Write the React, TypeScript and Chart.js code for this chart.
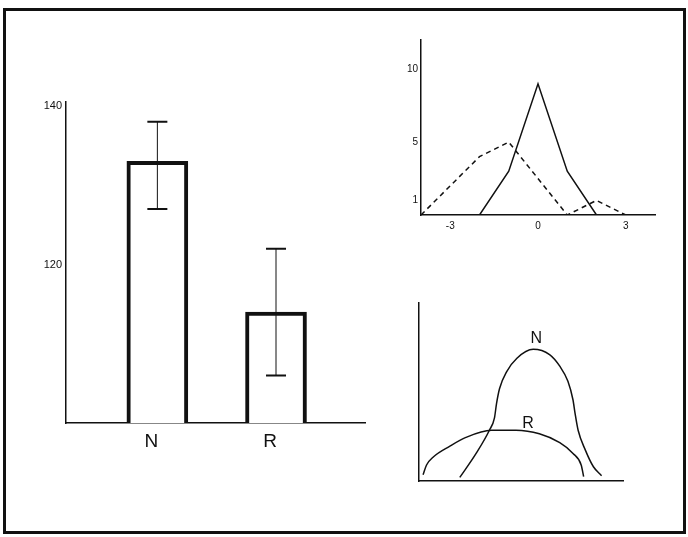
import React, { useEffect, useRef } from "react";
import { Chart, registerables } from "chart.js";
Chart.register(...registerables);

// ---- Panel 1: bar chart ----
const barCategories = ["N", "R"];
const barPositions = [1, 2];
const barMeans = [133, 114];
const barErrHigh = [138, 122];
const barErrLow = [127, 106];
const barYTicks = [120, 140];

// ---- Panel 2: distributions ----
const solidX = [-2, -1, 0, 1, 2];
const solidY = [0, 3, 9, 3, 0];
const dashedX = [-4, -2, -1, 1, 2, 3];
const dashedY = [0, 4, 5, 0, 1, 0];
const distXTicks = [-3, 0, 3];
const distYTicks = [1, 5, 10];

// ---- Panel 3: smooth curves ----
const curveNX = [20, 28, 34.5, 37, 38, 39.5, 43, 48, 56, 64, 69, 73, 75.5, 76.5, 78, 81.5, 85.5, 89.5];
const curveNY = [2, 15.5, 28.5, 35.5, 43.5, 52, 61.5, 69, 74, 71, 64.5, 56, 45.5, 38, 28.5, 17.5, 8, 3];
const curveRX = [2, 3.7, 7, 15, 23, 35.5, 47.5, 59, 69, 75.5, 79.5, 80.7];
const curveRY = [3.5, 9, 13.5, 19.5, 24.5, 28.5, 28.5, 26.5, 21.5, 15.5, 9, 2.5];
const curveLabels = ["N", "R"];
const curveLabelX = [57.5, 53.5];
const curveLabelY = [80, 32.5];

const FONT = "'Liberation Sans', Arial, sans-serif";
const INK = "#111";

function ChartCanvas({ left, top, width, height, config }: any) {
  const ref = useRef<HTMLCanvasElement>(null);
  useEffect(() => {
    const chart = new Chart(ref.current as HTMLCanvasElement, config);
    return () => chart.destroy();
  }, []);
  return (
    <canvas
      ref={ref}
      width={width}
      height={height}
      style={{ position: "absolute", left, top, width, height }}
    />
  );
}

const errorBarPlugin = {
  id: "errorBars",
  afterDatasetsDraw(chart: any) {
    const { ctx } = chart;
    const xs = chart.scales.x;
    const ys = chart.scales.y;
    ctx.save();
    ctx.strokeStyle = INK;
    barPositions.forEach((p, i) => {
      const x = xs.getPixelForValue(p);
      const yh = ys.getPixelForValue(barErrHigh[i]);
      const yl = ys.getPixelForValue(barErrLow[i]);
      ctx.lineWidth = 1;
      ctx.beginPath();
      ctx.moveTo(x, yh);
      ctx.lineTo(x, yl);
      ctx.stroke();
      ctx.lineWidth = 2;
      ctx.beginPath();
      ctx.moveTo(x - 10, yh);
      ctx.lineTo(x + 10, yh);
      ctx.moveTo(x - 10, yl);
      ctx.lineTo(x + 10, yl);
      ctx.stroke();
    });
    ctx.restore();
  },
};

const curveLabelPlugin = {
  id: "curveLabels",
  afterDatasetsDraw(chart: any) {
    const { ctx } = chart;
    const xs = chart.scales.x;
    const ys = chart.scales.y;
    ctx.save();
    ctx.fillStyle = INK;
    ctx.font = `16px ${FONT}`;
    ctx.textAlign = "center";
    ctx.textBaseline = "middle";
    curveLabels.forEach((t, i) => {
      ctx.fillText(t, xs.getPixelForValue(curveLabelX[i]), ys.getPixelForValue(curveLabelY[i]));
    });
    ctx.restore();
  },
};

const barConfig: any = {
  type: "scatter",
  data: {
    datasets: [
      {
        type: "bar",
        data: barPositions.map((p, i) => ({ x: p, y: barMeans[i] })),
        backgroundColor: "#fff",
        borderColor: INK,
        borderWidth: 4,
        borderSkipped: "start",
        barThickness: 61,
        base: 100,
      },
    ],
  },
  options: {
    responsive: false,
    animation: false,
    events: [],
    layout: { padding: { left: 6, top: 16, right: 5, bottom: 13 } },
    plugins: { legend: { display: false }, tooltip: { enabled: false } },
    scales: {
      x: {
        type: "linear",
        offset: false,
        bounds: "data",
        grace: 0,
        min: 0.23,
        max: 2.75,
        afterBuildTicks: (s: any) => {
          s.ticks = barPositions.map((v) => ({ value: v }));
        },
        afterFit: (s: any) => {
          s.height = 30;
        },
        grid: { display: false, drawTicks: false, offset: false },
        border: { display: true, color: INK, width: 1.5 },
        ticks: {
          padding: 7,
          labelOffset: -6,
          color: INK,
          font: { family: FONT, size: 19 },
          callback: (v: any) => barCategories[barPositions.indexOf(v)] ?? "",
        },
      },
      y: {
        type: "linear",
        min: 100,
        max: 140.5,
        afterBuildTicks: (s: any) => {
          s.ticks = barYTicks.map((v) => ({ value: v }));
        },
        afterFit: (s: any) => {
          s.width = 40;
        },
        grid: { display: false, drawTicks: false },
        border: { display: true, color: INK, width: 1.5 },
        ticks: { padding: 4, color: INK, font: { family: FONT, size: 11 } },
      },
    },
  },
  plugins: [errorBarPlugin],
};

const distConfig: any = {
  type: "line",
  data: {
    datasets: [
      {
        data: solidX.map((x, i) => ({ x, y: solidY[i] })),
        borderColor: INK,
        borderWidth: 1.5,
        pointRadius: 0,
        tension: 0,
        fill: false,
      },
      {
        data: dashedX.map((x, i) => ({ x, y: dashedY[i] })),
        borderColor: INK,
        borderWidth: 1.5,
        borderDash: [5, 4],
        pointRadius: 0,
        tension: 0,
        fill: false,
      },
    ],
  },
  options: {
    responsive: false,
    animation: false,
    events: [],
    layout: { padding: { left: 5, top: 10, right: 11, bottom: 3 } },
    plugins: { legend: { display: false }, tooltip: { enabled: false } },
    scales: {
      x: {
        type: "linear",
        min: -4,
        max: 4,
        afterBuildTicks: (s: any) => {
          s.ticks = distXTicks.map((v) => ({ value: v }));
        },
        afterFit: (s: any) => {
          s.height = 22;
        },
        grid: { display: false, drawTicks: false },
        border: { display: true, color: INK, width: 1.5 },
        ticks: { padding: 5, color: INK, font: { family: FONT, size: 10 }, callback: (v: any) => String(v) },
      },
      y: {
        type: "linear",
        min: 0,
        max: 12,
        afterBuildTicks: (s: any) => {
          s.ticks = distYTicks.map((v) => ({ value: v }));
        },
        afterFit: (s: any) => {
          s.width = 30;
        },
        grid: { display: false, drawTicks: false },
        border: { display: true, color: INK, width: 1.5 },
        ticks: { padding: 3, color: INK, font: { family: FONT, size: 10 }, callback: (v: any) => String(v) },
      },
    },
  },
};

const curveConfig: any = {
  type: "line",
  data: {
    datasets: [
      {
        data: curveNX.map((x, i) => ({ x, y: curveNY[i] })),
        borderColor: INK,
        borderWidth: 1.5,
        pointRadius: 0,
        cubicInterpolationMode: "monotone",
        fill: false,
      },
      {
        data: curveRX.map((x, i) => ({ x, y: curveRY[i] })),
        borderColor: INK,
        borderWidth: 1.5,
        pointRadius: 0,
        cubicInterpolationMode: "monotone",
        fill: false,
      },
    ],
  },
  options: {
    responsive: false,
    animation: false,
    events: [],
    layout: { padding: { left: 10, top: 10, right: 16, bottom: 12 } },
    plugins: { legend: { display: false }, tooltip: { enabled: false } },
    scales: {
      x: {
        type: "linear",
        min: 0,
        max: 100,
        afterFit: (s: any) => {
          s.height = 0;
        },
        grid: { display: false, drawTicks: false },
        border: { display: true, color: INK, width: 1.5 },
        ticks: { display: false },
      },
      y: {
        type: "linear",
        min: 0,
        max: 100,
        afterFit: (s: any) => {
          s.width = 0;
        },
        grid: { display: false, drawTicks: false },
        border: { display: true, color: INK, width: 1.5 },
        ticks: { display: false },
      },
    },
  },
  plugins: [curveLabelPlugin],
};

export default function App() {
  return (
    <div>
      <div
        style={{
          position: "absolute",
          left: 3,
          top: 8,
          width: 683,
          height: 526,
          border: "3px solid #111",
          boxSizing: "border-box",
          background: "#fff",
        }}
      />
      <ChartCanvas left={20} top={86} width={350} height={380} config={barConfig} />
      <ChartCanvas left={386} top={30} width={280} height={210} config={distConfig} />
      <ChartCanvas left={409} top={293} width={230} height={200} config={curveConfig} />
    </div>
  );
}
